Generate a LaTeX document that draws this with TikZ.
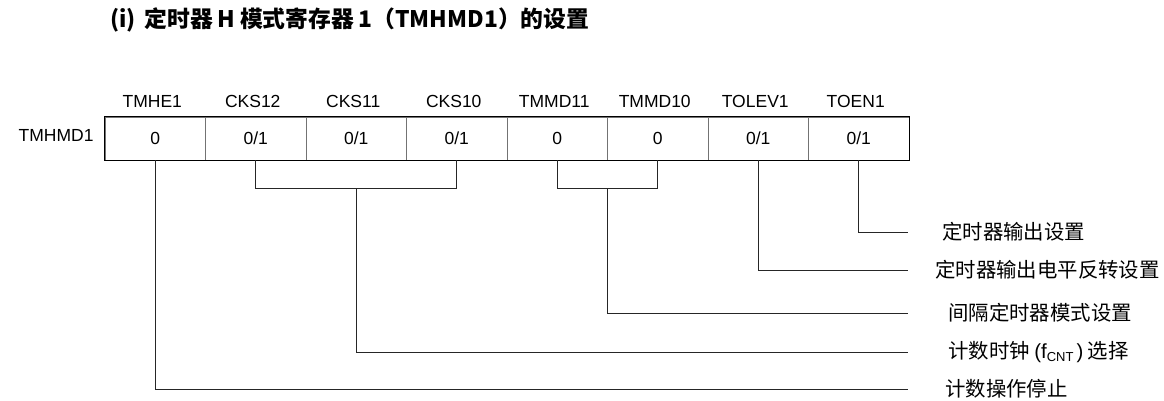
\documentclass[tikz,border=0pt]{standalone}
\usepackage{fontspec}
\setmainfont{Liberation Sans}
\newfontfamily\cjk{Noto Sans CJK SC}
\usetikzlibrary{calc,positioning}
\tikzset{
  bitcell/.style={draw=black!55,line width=0.6pt,minimum width=100.5pt,minimum height=43pt,inner sep=0pt,font=\fontsize{17.5}{20}\selectfont},
  bitname/.style={inner sep=0pt,font=\fontsize{17.5}{20}\selectfont},
  desc/.style={anchor=west,inner sep=0pt,font=\cjk\fontsize{20.4}{22}\selectfont},
  wire/.style={line width=0.8pt,black!85}
}
\begin{document}
\begin{tikzpicture}[x=1pt,y=-1pt]
  \useasboundingbox (0,0) rectangle (1164,400);

  \node[anchor=west,inner sep=0pt,font=\cjk\bfseries\fontsize{22.8}{25}\selectfont] (title) at (110,20)
    {(i)\hspace{0.4em}定时器\hspace{0.2em}H\hspace{0.2em}模式寄存器\hspace{0.2em}1（TMHMD1）的设置};

  % register cells
  \foreach \i/\v/\n in {1/0/TMHE1,2/0\slash1/CKS12,3/0\slash1/CKS11,4/0\slash1/CKS10,
                        5/0/TMMD11,6/0/TMMD10,7/0\slash1/TOLEV1,8/0\slash1/TOEN1} {
    \node[bitcell] (c\i) at ({105+100.5*(\i-0.5)},138.5) {\v};
    \node[bitname,above=9pt of c\i.north,xshift=-3pt] (n\i) {\n};
  }
  \draw[line width=1.4pt] (c1.north west) rectangle (c8.south east);
  \node[bitname,left=11pt of c1,yshift=3pt] (reg) {TMHMD1};

  % descriptions
  \node[desc] (l1) at (942,232) {定时器输出设置};
  \node[desc] (l2) at (935,270) {定时器输出电平反转设置};
  \node[desc] (l3) at (948,313) {间隔定时器模式设置};
  \node[desc] (l4) at (948,352) {计数时钟 {\normalfont(f\raisebox{-3.5pt}{\fontsize{13}{13}\selectfont CNT}\hspace{3pt})} 选择};
  \node[desc] (l5) at (945,389) {计数操作停止};
  \foreach \k/\y in {1/232,2/270,3/313,4/352,5/389}
    \coordinate (e\k) at (908,\y);

  % connectors
  \draw[wire] (c8.south) |- (e1);
  \draw[wire] (c7.south) |- (e2);
  \draw[wire] (c5.south) -- ++(0,28) coordinate (b2) -| (c6.south);
  \draw[wire] ($(b2)!0.5!(b2 -| c6.south)$) |- (e3);
  \draw[wire] (c2.south) -- ++(0,28) coordinate (b1) -| (c4.south);
  \draw[wire] (b1 -| c3.south) |- (e4);
  \draw[wire] (c1.south) |- (e5);
\end{tikzpicture}
\end{document}
